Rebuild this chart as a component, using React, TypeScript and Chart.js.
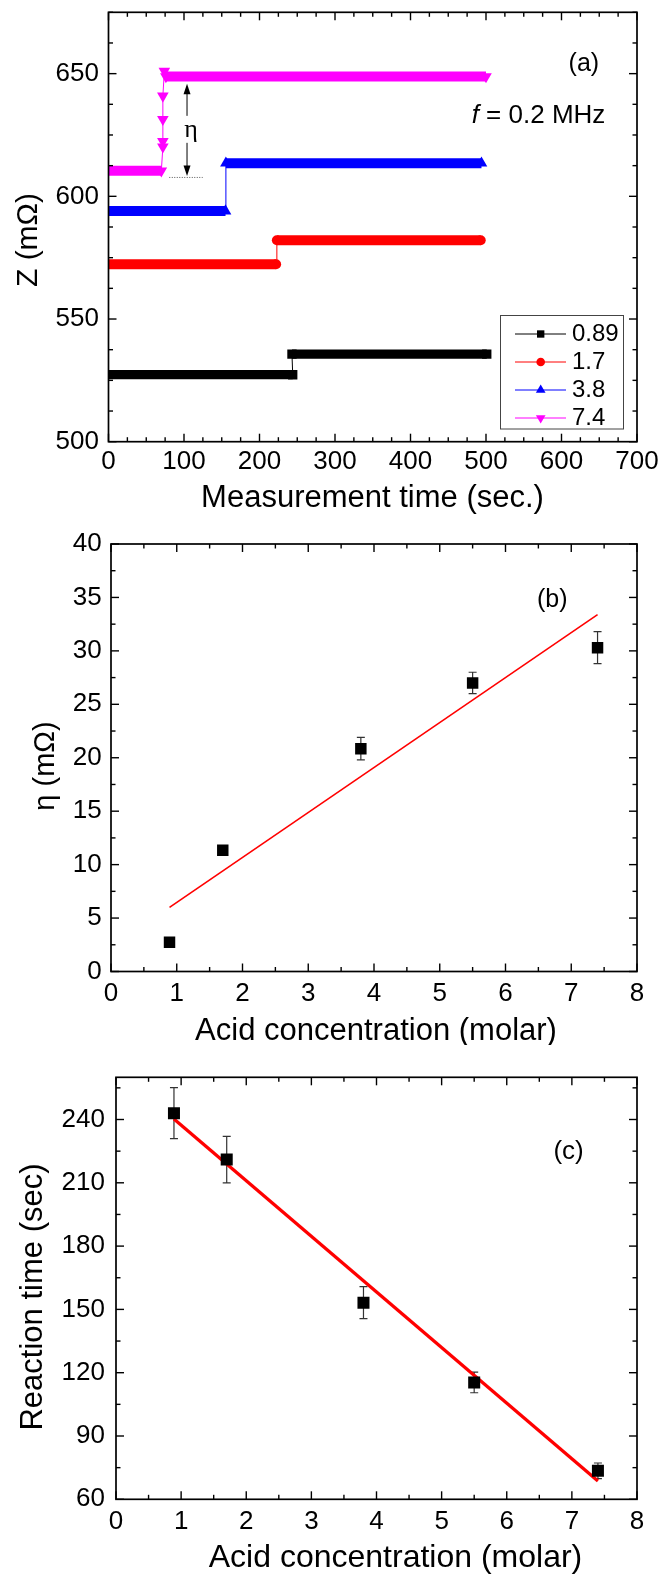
import React, { useEffect, useRef } from 'react';
import { Chart, registerables } from 'chart.js';

Chart.register(...registerables);

const SANS = '"Liberation Sans", Arial, Helvetica, sans-serif';
const SERIF = '"Liberation Serif", "Times New Roman", serif';

// ---------- Panel (a): Z vs measurement time ----------
const legendLabels = ['0.89', '1.7', '3.8', '7.4'];
const seriesColors = ['#000000', '#ff0000', '#0000ff', '#ff00ff'];
const timeTicks = [0, 100, 200, 300, 400, 500, 600, 700];
const zTicks = [500, 550, 600, 650];

const timeBlack = [0, 244, 243, 501];
const zBlack = [527.3, 527.3, 535.7, 535.7];
const timeRed = [0, 222, 223, 493];
const zRed = [572.3, 572.3, 582.1, 582.1];
const timeBlue = [0, 155, 155.5, 494];
const zBlue = [594.0, 594.0, 613.5, 613.5];
const timeMagenta = [0, 70, 72, 72, 72, 72, 74, 76, 500];
const zMagenta = [610.4, 610.4, 620.2, 622.4, 631.4, 640.9, 651.0, 648.8, 648.8];

// eta annotation (data units)
const etaArrowT = 104;
const etaArrowZ = [645.9, 632.8, 621.8, 608.3];
const etaGuideT = [80.5, 124.7];
const etaGuideZ = 607.9;

// ---------- Panel (b): eta vs acid concentration ----------
const concTicks = [0, 1, 2, 3, 4, 5, 6, 7, 8];
const etaTicks = [0, 5, 10, 15, 20, 25, 30, 35, 40];
const concentration = [0.89, 1.7, 3.8, 5.5, 7.4];
const etaValues = [2.74, 11.35, 20.85, 27.0, 30.3];
const etaErrors = [0.3, 0.4, 1.05, 1.0, 1.5];
const fitConc = [0.89, 7.4];
const etaFit = [6.0, 33.4];

// ---------- Panel (c): reaction time vs acid concentration ----------
const reactTicks = [60, 90, 120, 150, 180, 210, 240];
const reactionTime = [243.0, 221.0, 153.2, 115.4, 73.5];
const reactionErrors = [12.1, 11.0, 7.6, 4.9, 3.7];
const reactionFit = [240.2, 68.7];

type TextItem = {
  text: string;
  x: number;
  y: number;
  size: number;
  data?: boolean;
  rotate?: number;
  align?: CanvasTextAlign;
  family?: string;
  italicPrefix?: string;
};

function textPlugin(items: TextItem[]) {
  return {
    id: 'texts',
    afterDraw(chart: any) {
      const { ctx } = chart;
      const xs = chart.scales.x;
      const ys = chart.scales.y;
      for (const it of items) {
        ctx.save();
        let x = it.x;
        let y = it.y;
        if (it.data) {
          x = xs.getPixelForValue(it.x);
          y = ys.getPixelForValue(it.y);
        }
        ctx.translate(x, y);
        if (it.rotate) ctx.rotate((it.rotate * Math.PI) / 180);
        ctx.fillStyle = '#000';
        ctx.textBaseline = 'alphabetic';
        const fam = it.family || SANS;
        if (it.italicPrefix) {
          ctx.textAlign = 'left';
          ctx.font = `italic ${it.size}px ${fam}`;
          ctx.fillText(it.italicPrefix, 0, 0);
          const w = ctx.measureText(it.italicPrefix).width;
          ctx.font = `${it.size}px ${fam}`;
          ctx.fillText(it.text, w, 0);
        } else {
          ctx.textAlign = it.align || 'center';
          ctx.font = `${it.size}px ${fam}`;
          ctx.fillText(it.text, 0, 0);
        }
        ctx.restore();
      }
    },
  };
}

function frameTicksPlugin(xSub: number, ySub: number) {
  return {
    id: 'frameTicks',
    afterDatasetsDraw(chart: any) {
      const { ctx, chartArea: a } = chart;
      const xs = chart.scales.x;
      const ys = chart.scales.y;
      const MAJ = 8;
      const MIN = 4.5;
      ctx.save();
      ctx.strokeStyle = '#000';
      ctx.lineWidth = 1.4;
      const line = (x1: number, y1: number, x2: number, y2: number) => {
        ctx.beginPath();
        ctx.moveTo(x1, y1);
        ctx.lineTo(x2, y2);
        ctx.stroke();
      };
      const collect = (scale: any, sub: number) => {
        const majors: number[] = scale.ticks.map((t: any) => t.value);
        const step = (majors[1] - majors[0]) / sub;
        const out: { v: number; major: boolean }[] = [];
        const eps = step * 1e-6;
        for (let v = majors[0]; v >= scale.min - eps; v -= step) out.push({ v, major: false });
        for (let v = majors[0] + step; v <= scale.max + eps; v += step) out.push({ v, major: false });
        for (const o of out) o.major = majors.some((m) => Math.abs(m - o.v) < eps * 10);
        return out;
      };
      for (const t of collect(xs, xSub)) {
        const p = xs.getPixelForValue(t.v);
        const len = t.major ? MAJ : MIN;
        line(p, a.bottom, p, a.bottom - len);
        line(p, a.top, p, a.top + len);
      }
      for (const t of collect(ys, ySub)) {
        const p = ys.getPixelForValue(t.v);
        const len = t.major ? MAJ : MIN;
        line(a.left, p, a.left + len, p);
        line(a.right, p, a.right - len, p);
      }
      ctx.lineWidth = 1.7;
      ctx.strokeRect(a.left, a.top, a.right - a.left, a.bottom - a.top);
      ctx.restore();
    },
  };
}

function drawMarker(ctx: CanvasRenderingContext2D, style: string, x: number, y: number, r: number, color: string) {
  ctx.fillStyle = color;
  ctx.beginPath();
  if (style === 'rect') {
    const s = r * Math.SQRT1_2;
    ctx.rect(x - s, y - s, 2 * s, 2 * s);
  } else if (style === 'circle') {
    ctx.arc(x, y, r, 0, Math.PI * 2);
  } else {
    const down = style === 'triangleDown';
    let rad = down ? Math.PI : 0;
    ctx.moveTo(x + Math.sin(rad) * r, y - Math.cos(rad) * r);
    rad += (2 * Math.PI) / 3;
    ctx.lineTo(x + Math.sin(rad) * r, y - Math.cos(rad) * r);
    rad += (2 * Math.PI) / 3;
    ctx.lineTo(x + Math.sin(rad) * r, y - Math.cos(rad) * r);
    ctx.closePath();
  }
  ctx.fill();
}

const legendStyles = ['rect', 'circle', 'triangle', 'triangleDown'];
const legendRadii = [5.2, 4.3, 5.6, 5.6];

const legendPlugin = {
  id: 'boxLegend',
  afterDraw(chart: any) {
    const { ctx } = chart;
    ctx.save();
    ctx.strokeStyle = '#444';
    ctx.lineWidth = 1;
    ctx.strokeRect(500.5, 315.5, 123, 113.5);
    ctx.font = `24px ${SANS}`;
    ctx.textBaseline = 'middle';
    ctx.textAlign = 'left';
    legendLabels.forEach((lab, i) => {
      const y = 333.5 + i * 28;
      ctx.strokeStyle = seriesColors[i];
      ctx.lineWidth = 1;
      ctx.beginPath();
      ctx.moveTo(515, y + 0.5);
      ctx.lineTo(566, y + 0.5);
      ctx.stroke();
      drawMarker(ctx, legendStyles[i], 540.7, y + 0.5, legendRadii[i], seriesColors[i]);
      ctx.fillStyle = '#000';
      ctx.fillText(lab, 572, y + 1);
    });
    ctx.restore();
  },
};

const etaPlugin = {
  id: 'etaArrow',
  afterDatasetsDraw(chart: any) {
    const { ctx } = chart;
    const xs = chart.scales.x;
    const ys = chart.scales.y;
    const x = xs.getPixelForValue(etaArrowT);
    const [zTop, zGapTop, zGapBot, zBot] = etaArrowZ.map((v) => ys.getPixelForValue(v));
    ctx.save();
    ctx.strokeStyle = '#000';
    ctx.fillStyle = '#000';
    ctx.lineWidth = 1;
    ctx.beginPath();
    ctx.moveTo(x, zTop + 8);
    ctx.lineTo(x, zGapTop);
    ctx.moveTo(x, zGapBot);
    ctx.lineTo(x, zBot - 8);
    ctx.stroke();
    ctx.beginPath();
    ctx.moveTo(x, zTop);
    ctx.lineTo(x - 3.5, zTop + 10.5);
    ctx.lineTo(x + 3.5, zTop + 10.5);
    ctx.closePath();
    ctx.fill();
    ctx.beginPath();
    ctx.moveTo(x, zBot);
    ctx.lineTo(x - 3.5, zBot - 10.5);
    ctx.lineTo(x + 3.5, zBot - 10.5);
    ctx.closePath();
    ctx.fill();
    const gy = ys.getPixelForValue(etaGuideZ);
    ctx.strokeStyle = '#555';
    ctx.setLineDash([1, 1.5]);
    ctx.beginPath();
    ctx.moveTo(xs.getPixelForValue(etaGuideT[0]), gy + 0.5);
    ctx.lineTo(xs.getPixelForValue(etaGuideT[1]), gy + 0.5);
    ctx.stroke();
    ctx.restore();
  },
};

function errorBarPlugin(xv: number[], yv: number[], err: number[]) {
  return {
    id: 'errorBars',
    beforeDatasetsDraw(chart: any) {
      const { ctx } = chart;
      const xs = chart.scales.x;
      const ys = chart.scales.y;
      ctx.save();
      ctx.strokeStyle = '#333';
      ctx.lineWidth = 1.2;
      xv.forEach((xval, i) => {
        const x = xs.getPixelForValue(xval);
        const y1 = ys.getPixelForValue(yv[i] + err[i]);
        const y2 = ys.getPixelForValue(yv[i] - err[i]);
        ctx.beginPath();
        ctx.moveTo(x, y1);
        ctx.lineTo(x, y2);
        ctx.moveTo(x - 4, y1);
        ctx.lineTo(x + 4, y1);
        ctx.moveTo(x - 4, y2);
        ctx.lineTo(x + 4, y2);
        ctx.stroke();
      });
      ctx.restore();
    },
  };
}

function axis(kind: 'x' | 'y', ticksArr: number[], min: number, max: number, size: number, padding: number, fontSize: number) {
  return {
    type: 'linear',
    position: kind === 'x' ? 'bottom' : 'left',
    min,
    max,
    afterBuildTicks: (s: any) => {
      s.ticks = ticksArr.map((v) => ({ value: v }));
    },
    afterFit: (s: any) => {
      if (kind === 'x') s.height = size;
      else s.width = size;
      s.paddingTop = 0;
      s.paddingBottom = 0;
      s.paddingLeft = 0;
      s.paddingRight = 0;
    },
    ticks: {
      font: { family: SANS, size: fontSize },
      color: '#000',
      padding,
      autoSkip: false,
      maxRotation: 0,
      minRotation: 0,
      callback: (v: any) => String(v),
    },
    grid: { display: false, drawTicks: false },
    border: { display: false },
    title: { display: false },
  };
}

function stepSeries(times: number[], zs: number[], color: string, style: string, rotation: number, r: number, band: number) {
  return {
    type: 'line',
    data: times.map((t, i) => ({ x: t, y: zs[i] })),
    borderColor: color,
    backgroundColor: color,
    borderWidth: 1,
    borderCapStyle: 'butt',
    segment: {
      borderWidth: (c: any) => (c.p0.parsed.y === c.p1.parsed.y ? band : 1),
    },
    pointStyle: style,
    pointRotation: rotation,
    pointRadius: (c: any) => (c.dataIndex === 0 ? 0 : r),
    pointBackgroundColor: color,
    pointBorderColor: color,
    pointBorderWidth: 0,
    tension: 0,
    fill: false,
  };
}

const basePlugins = { legend: { display: false }, tooltip: { enabled: false } };

const makeA = () => ({
  type: 'line',
  data: {
    datasets: [
      stepSeries(timeBlack, zBlack, seriesColors[0], 'rect', 0, 6.6, 9.3),
      stepSeries(timeRed, zRed, seriesColors[1], 'circle', 0, 5, 10),
      stepSeries(timeBlue, zBlue, seriesColors[2], 'triangle', 0, 6.7, 10),
      stepSeries(timeMagenta, zMagenta, seriesColors[3], 'triangle', 180, 6.7, 10),
    ],
  },
  options: {
    responsive: false,
    animation: false,
    events: [],
    layout: { padding: { left: 0, right: 26, top: 12.3, bottom: 0 } },
    scales: {
      x: axis('x', timeTicks, 0, 700, 78.3, 4.7, 26),
      y: axis('y', zTicks, 500, 675, 108.5, 9.5, 26),
    },
    plugins: basePlugins,
  },
  plugins: [
    frameTicksPlugin(4, 4),
    etaPlugin,
    legendPlugin,
    textPlugin([
      { text: 'Measurement time (sec.)', x: 372.5, y: 506.5, size: 31 },
      { text: 'Z (mΩ)', x: 37.4, y: 240, size: 30, rotate: -90 },
      { text: '(a)', x: 629.6, y: 651.1, size: 25, data: true },
      { text: ' = 0.2 MHz', italicPrefix: 'f', x: 481, y: 629.9, size: 26, data: true },
      { text: 'η', x: 109.2, y: 624.1, size: 26, data: true, family: SERIF },
    ]),
  ],
});

const makeB = () => ({
  type: 'scatter',
  data: {
    datasets: [
      {
        type: 'scatter',
        data: concentration.map((c, i) => ({ x: c, y: etaValues[i] })),
        pointStyle: 'rect',
        pointRadius: 8.1,
        pointBackgroundColor: '#000',
        pointBorderWidth: 0,
      },
      {
        type: 'line',
        data: fitConc.map((c, i) => ({ x: c, y: etaFit[i] })),
        borderColor: '#ff0000',
        borderWidth: 1.6,
        pointRadius: 0,
        fill: false,
      },
    ],
  },
  options: {
    responsive: false,
    animation: false,
    events: [],
    layout: { padding: { left: 0, right: 26, top: 24, bottom: 0 } },
    scales: {
      x: axis('x', concTicks, 0, 8, 73.5, 6.3, 26),
      y: axis('y', etaTicks, 0, 40, 111, 9.3, 26),
    },
    plugins: basePlugins,
  },
  plugins: [
    errorBarPlugin(concentration, etaValues, etaErrors),
    frameTicksPlugin(2, 2),
    textPlugin([
      { text: 'Acid concentration (molar)', x: 376, y: 520, size: 31 },
      { text: 'η (mΩ)', x: 54, y: 246, size: 29, rotate: -90 },
      { text: '(b)', x: 6.71, y: 34.07, size: 25, data: true },
    ]),
  ],
});

const makeC = () => ({
  type: 'scatter',
  data: {
    datasets: [
      {
        type: 'scatter',
        data: concentration.map((c, i) => ({ x: c, y: reactionTime[i] })),
        pointStyle: 'rect',
        pointRadius: 8.5,
        pointBackgroundColor: '#000',
        pointBorderWidth: 0,
      },
      {
        type: 'line',
        data: fitConc.map((c, i) => ({ x: c, y: reactionFit[i] })),
        borderColor: '#ff0000',
        borderWidth: 3.3,
        pointRadius: 0,
        fill: false,
      },
    ],
  },
  options: {
    responsive: false,
    animation: false,
    events: [],
    layout: { padding: { left: 0, right: 26, top: 32.3, bottom: 0 } },
    scales: {
      x: axis('x', concTicks, 0, 8, 76.7, 6.6, 26),
      y: axis('y', reactTicks, 60, 260, 116, 11, 26),
    },
    plugins: basePlugins,
  },
  plugins: [
    errorBarPlugin(concentration, reactionTime, reactionErrors),
    frameTicksPlugin(2, 2),
    textPlugin([
      { text: 'Acid concentration (molar)', x: 395.5, y: 522, size: 32 },
      { text: 'Reaction time (sec)', x: 42, y: 252, size: 31, rotate: -90 },
      { text: '(c)', x: 6.95, y: 221.2, size: 26, data: true },
    ]),
  ],
});

function ChartCanvas({ top, height, make }: { top: number; height: number; make: () => any }) {
  const ref = useRef<HTMLCanvasElement>(null);
  useEffect(() => {
    const chart = new Chart(ref.current as HTMLCanvasElement, make());
    return () => chart.destroy();
  }, []);
  return (
    <canvas
      ref={ref}
      width={663}
      height={height}
      style={{ position: 'absolute', left: 0, top, width: 663, height, display: 'block' }}
    />
  );
}

export default function App() {
  return (
    <div style={{ position: 'absolute', left: 0, top: 0, width: 663, height: 1576, background: '#fff' }}>
      <ChartCanvas top={0} height={520} make={makeA} />
      <ChartCanvas top={520} height={525} make={makeB} />
      <ChartCanvas top={1045} height={531} make={makeC} />
    </div>
  );
}
